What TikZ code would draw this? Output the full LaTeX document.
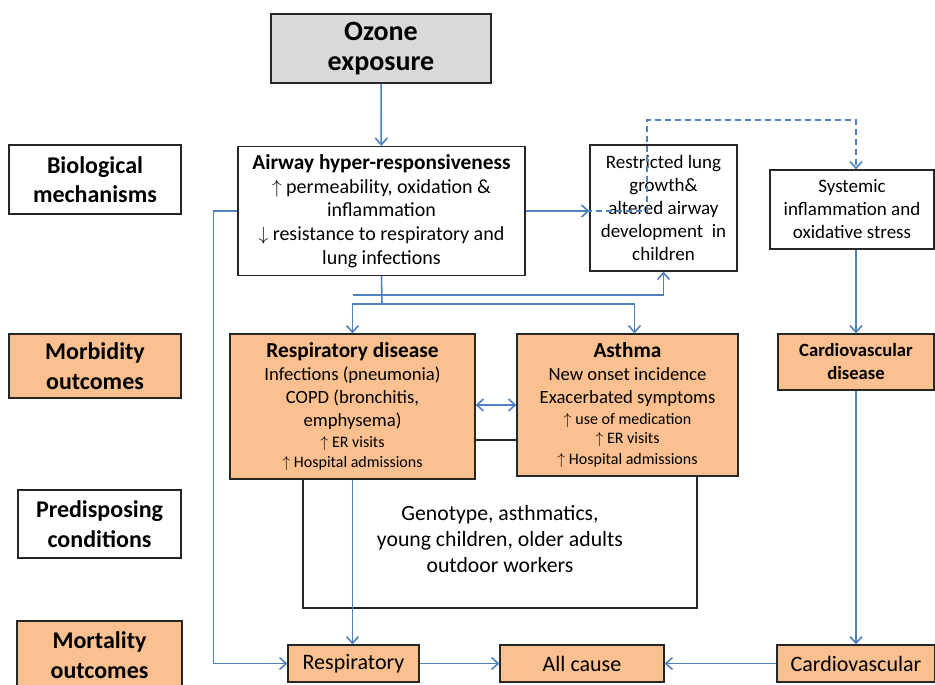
\documentclass[tikz,border=0pt]{standalone}
\usepackage{fontspec}
\setmainfont{Carlito}
\usepackage{tikz}
\usepackage{xcolor}
\usetikzlibrary{arrows.meta, calc}
\definecolor{lineblue}{HTML}{4F81BD}
\definecolor{boxorange}{HTML}{FAC090}
\definecolor{boxgrey}{HTML}{D9D9D9}
\newcommand{\fs}[2]{\fontsize{#1}{#2}\selectfont}
\tikzstyle{plainbox} = [draw=black!85, line width=0.9pt, fill=white, inner sep=0pt, align=center]
\tikzstyle{orangebox} = [plainbox, fill=boxorange]
\tikzstyle{flow} = [draw=lineblue, line width=1.2pt, -{Straight Barb[length=5pt,width=9pt]}]
\tikzstyle{twoway} = [flow, {Straight Barb[length=5pt,width=9pt]}-{Straight Barb[length=5pt,width=9pt]}]

\begin{document}
\begin{tikzpicture}[x=0.75pt, y=-0.75pt]
    % Page
    \useasboundingbox (0,0) rectangle (935,685);
    \fill[white] (0,0) rectangle (935,685);

    % Row labels
    \node (bio) [plainbox, minimum width=129pt, minimum height=51.75pt, font=\fs{18}{22}\bfseries] at (95,179.5) {Biological\\mechanisms};
    \node (morb) [orangebox, minimum width=129pt, minimum height=48pt, font=\fs{18}{22}\bfseries] at (95,366) {Morbidity\\[1pt]outcomes};
    \node (pred) [plainbox, minimum width=122.25pt, minimum height=51pt, font=\fs{18}{22}\bfseries] at (99.5,524) {Predisposing\\conditions};
    \node (mort) [orangebox, minimum width=123.75pt, minimum height=51pt, font=\fs{18}{22}\bfseries] at (99.5,655) {Mortality\\outcomes};

    % Exposure and mechanisms
    \node (ozone) [plainbox, fill=boxgrey, minimum width=165pt, minimum height=51.75pt, font=\fs{21}{22.5}\bfseries] at (381,48.5) {Ozone\\exposure};
    \node (airway) [plainbox, minimum width=215.25pt, minimum height=96.75pt, font=\fs{15}{17.8}] at (381.5,211) {{\fs{16}{17.8}\bfseries Airway hyper-responsiveness}\\$\uparrow$ permeability, oxidation \&\\inflammation\\$\downarrow$ resistance to respiratory and\\lung infections};
    \node (restr) [plainbox, minimum width=110.25pt, minimum height=94.5pt, font=\fs{14.25}{17.25}] at (663.5,208) {Restricted lung\\growth\&\\altered airway\\development\ \ in\\children};
    \node (sys) [plainbox, minimum width=123pt, minimum height=59.25pt, font=\fs{14.25}{17.25}] at (852,209.5) {Systemic\\inflammation and\\oxidative stress};

    % Predisposing conditions frame
    \draw[black!85, line width=0.9pt] (303,440) rectangle (697,608);
    \node (predtext) [align=center, font=\fs{16.3}{19.5}] at (500,539) {Genotype, asthmatics,\\young children, older adults\\outdoor workers};

    % Morbidity
    \node (rdis) [orangebox, minimum width=183.75pt, minimum height=108.75pt, font=\fs{14}{17.25}] at (352.5,406.5) {{\fs{16}{18}\bfseries Respiratory disease}\\Infections (pneumonia)\\COPD (bronchitis,\\emphysema)\\[-1.5pt]{\fs{12}{15}$\uparrow$ ER visits}\\[-2.5pt]{\fs{12}{15}$\uparrow$ Hospital admissions}};
    \node (asthma) [orangebox, minimum width=165.75pt, minimum height=106.5pt, font=\fs{14}{17.25}] at (627.5,405) {{\fs{16}{18}\bfseries Asthma}\\New onset incidence\\Exacerbated symptoms\\[-1.5pt]{\fs{12}{15}$\uparrow$ use of medication}\\[-2.5pt]{\fs{12}{15}$\uparrow$ ER visits}\\[-1.5pt]{\fs{12}{15}$\uparrow$ Hospital admissions}};
    \node (cdis) [orangebox, minimum width=117pt, minimum height=42pt, font=\fs{14}{17.25}\bfseries] at (856,362) {Cardiovascular\\disease};

    % Mortality
    \node (mresp) [orangebox, minimum width=98.25pt, minimum height=27.75pt, font=\fs{16.5}{19}] at (353.5,663.5) {Respiratory};
    \node (allc) [orangebox, minimum width=123pt, minimum height=27.75pt, font=\fs{16.5}{19}] at (582,663.5) {All cause};
    \node (mcard) [orangebox, minimum width=118.5pt, minimum height=27.75pt, font=\fs{16.5}{19}] at (856,663.5) {Cardiovascular};

    % Connectors
    \coordinate (split) at (382,304);
    \coordinate (tap) at (353,295);
    \coordinate (dashtop) at (647,120);
    \draw[flow] (ozone) -- (airway);
    \draw[flow] (airway.west) -- ++(-24,0) |- (mresp.west);
    \draw[flow] (airway.east) -- (airway.east -| restr.west);
    \draw[flow, dash pattern=on 4.5pt off 3pt] (airway.east) -| (dashtop) -| (sys.north -| cdis.north);
    \draw[draw=lineblue, line width=1.2pt] (airway.south) -- (split);
    \draw[flow] (split) -| (rdis.north);
    \draw[flow] (split) -| ($(asthma.north)+(7,0)$);
    \draw[flow] (tap) -| (restr.south);
    \draw[twoway] (rdis.east |- asthma.west) -- (asthma.west);
    \draw[flow] (rdis.south) -- (rdis.south |- mresp.north);
    \draw[flow] (mresp) -- (allc);
    \draw[flow] (mcard) -- (allc);
    \draw[flow] (sys.south -| cdis.north) -- (cdis.north);
    \draw[flow] (cdis) -- (mcard);
\end{tikzpicture}
\end{document}
